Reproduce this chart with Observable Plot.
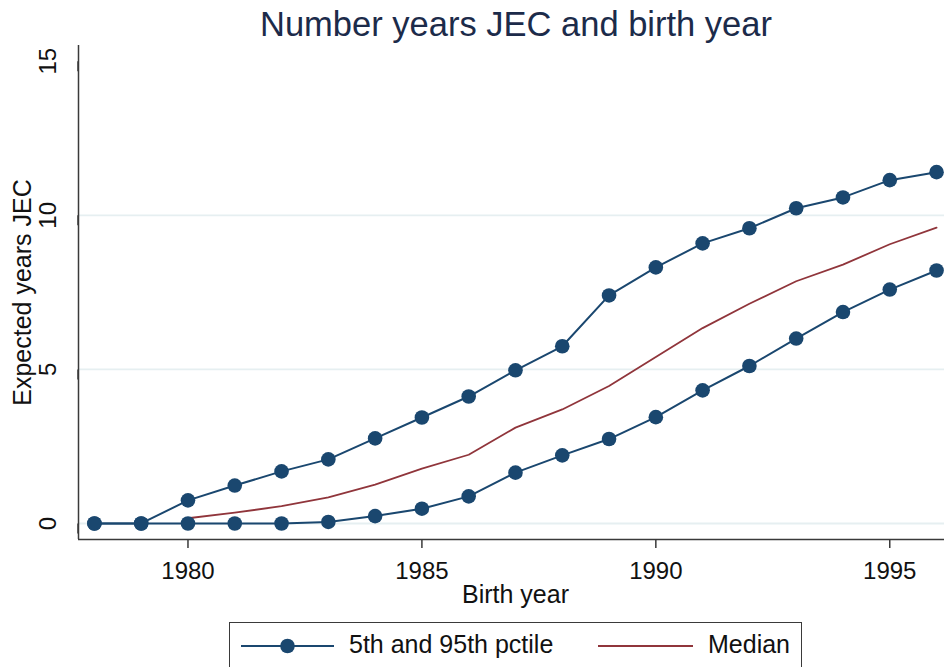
<!DOCTYPE html>
<html>
<head>
<meta charset="utf-8">
<script src="https://cdn.jsdelivr.net/npm/d3@7"></script>
<script src="https://cdn.jsdelivr.net/npm/@observablehq/plot@0.6"></script>
<style>
  html, body { margin: 0; padding: 0; background: #fff; }
  #wrap { position: relative; width: 944px; height: 667px; overflow: hidden; font-family: "Liberation Sans", Arial, sans-serif; }
  #legend { position: absolute; left: 229px; top: 622px; width: 573px; height: 60px; box-sizing: border-box; border: 1.5px solid #3a3a3a; background: #fff; }
  #legend .lab { position: absolute; top: 6px; font-size: 25px; color: #111; line-height: 30px; white-space: nowrap; }
  #legend svg { position: absolute; top: 0; left: 0; }
</style>
</head>
<body>
<div id="wrap"></div>
<script>
// ---- data ----
const years  = [1978,1979,1980,1981,1982,1983,1984,1985,1986,1987,1988,1989,1990,1991,1992,1993,1994,1995,1996];
const p95    = [0, 0, 0.75, 1.23, 1.69, 2.08, 2.76, 3.44, 4.12, 4.97, 5.75, 7.40, 8.31, 9.09, 9.58, 10.23, 10.58, 11.14, 11.40];
const p5     = [0, 0, 0, 0, 0, 0.05, 0.24, 0.48, 0.88, 1.65, 2.21, 2.74, 3.45, 4.32, 5.11, 6.00, 6.86, 7.59, 8.21];
const median = [null, null, 0.17, 0.35, 0.56, 0.85, 1.26, 1.78, 2.23, 3.11, 3.70, 4.46, 5.40, 6.34, 7.13, 7.86, 8.40, 9.06, 9.60];
const xTicks = [1980, 1985, 1990, 1995];
const yTicks = [0, 5, 10, 15];
const yGrid  = [0, 5, 10];
const titleText = "Number years JEC and birth year";
const xLabel = "Birth year";
const yLabel = "Expected years JEC";
const legendLabels = ["5th and 95th pctile", "Median"];

const navy = "#1a476f";
const maroon = "#90353b";

const upper = years.map((y, i) => ({year: y, value: p95[i]}));
const lower = years.map((y, i) => ({year: y, value: p5[i]}));
const med = years.map((y, i) => ({year: y, value: median[i]})).filter(d => d.value != null);

const xDomain = [1977.66, 1996.17];
const yDomain = [-0.52, 15.51];

const chart = Plot.plot({
  width: 944,
  height: 615,
  marginLeft: 78,
  marginRight: 0,
  marginTop: 45,
  marginBottom: 76,
  x: {domain: xDomain},
  y: {domain: yDomain},
  style: {fontFamily: '"Liberation Sans", Arial, sans-serif', background: "#fff", color: "#111", overflow: "visible"},
  marks: [
    Plot.gridY(yGrid, {stroke: "#e6eff1", strokeOpacity: 1, strokeWidth: 1.8}),
    Plot.ruleX([xDomain[0]], {stroke: "#3a3a3a", strokeWidth: 1.5}),
    Plot.ruleY([yDomain[0]], {stroke: "#3a3a3a", strokeWidth: 1.5}),
    Plot.axisX({ticks: xTicks, tickSize: 9, tickPadding: 13, fontSize: 24, tickFormat: d => String(d), label: null, stroke: "#3a3a3a", strokeWidth: 1.5}),
    Plot.axisY({ticks: yTicks, tickSize: 10, tickPadding: 20, fontSize: 24, rotate: -90, textAnchor: "middle", tickFormat: d => String(d), label: null, stroke: "#3a3a3a", strokeWidth: 1.5}),
    Plot.line(med, {x: "year", y: "value", stroke: maroon, strokeWidth: 1.8}),
    Plot.line(upper, {x: "year", y: "value", stroke: navy, strokeWidth: 2}),
    Plot.line(lower, {x: "year", y: "value", stroke: navy, strokeWidth: 2}),
    Plot.dot(upper, {x: "year", y: "value", r: 7.3, fill: navy, stroke: "none"}),
    Plot.dot(lower, {x: "year", y: "value", r: 7.3, fill: navy, stroke: "none"}),
    Plot.text([titleText], {text: d => d, frameAnchor: "top", textAnchor: "middle", lineAnchor: "middle", dx: 4.5, dy: -21, fontSize: 34.5, fill: "#1c2b4a"}),
    Plot.text([xLabel], {text: d => d, frameAnchor: "bottom", textAnchor: "middle", lineAnchor: "middle", dx: 4, dy: 55, fontSize: 25, fill: "#111"}),
    Plot.text([yLabel], {text: d => d, frameAnchor: "left", textAnchor: "middle", lineAnchor: "middle", rotate: -90, dx: -56, fontSize: 25, fill: "#111"})
  ]
});

const wrap = document.getElementById("wrap");
wrap.appendChild(chart);

// legend
const legend = document.createElement("div");
legend.id = "legend";
legend.innerHTML = `
<svg width="570" height="58">
  <line x1="11" y1="23" x2="104" y2="23" stroke="${navy}" stroke-width="2"/>
  <circle cx="57.5" cy="23" r="7.3" fill="${navy}"/>
  <line x1="368" y1="23" x2="463" y2="23" stroke="${maroon}" stroke-width="2"/>
</svg>
<span class="lab" style="left:119px">${legendLabels[0]}</span>
<span class="lab" style="left:478px">${legendLabels[1]}</span>`;
wrap.appendChild(legend);
</script>
</body>
</html>
